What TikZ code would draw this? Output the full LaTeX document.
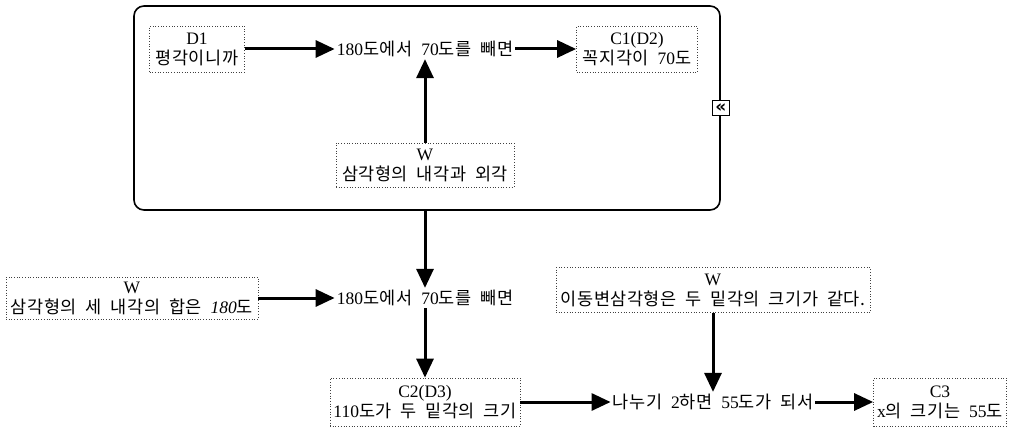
\documentclass[tikz,border=0pt]{standalone}
\usepackage{fontspec}
\setmainfont{Liberation Serif}
\newfontfamily\krfont[WordSpace=2,LetterSpace=3]{Noto Sans CJK KR}
\newfontfamily\iconfont{DejaVu Sans}
\newcommand{\kr}[1]{{\krfont #1}}
\usepackage{tikz}
\usetikzlibrary{positioning}
\usetikzlibrary{arrows.meta}
\tikzset{
	dotbox/.style={draw=black!75,dotted,line width=0.7pt,align=center,inner sep=2pt,minimum height=46pt},
	plain/.style={align=center,inner sep=2pt},
	bigarrow/.style={-{Triangle[length=19pt,width=17pt]},line width=3pt}
}

\begin{document}
\begin{tikzpicture}[x=1pt,y=-1pt,font=\fontsize{17.5}{20}\selectfont]
				\useasboundingbox (0,0) rectangle (1009,428);
				\node[draw,rounded corners=10pt,line width=1.6pt,inner sep=0pt,minimum width=586pt,minimum height=204pt](frame) at (427,108) {};
				\node[dotbox,minimum width=95pt](d1) at (197,49) {D1\\\kr{평각이니까}};
				\node[plain](sub1) at (425,49) {180\kr{도에서 }70\kr{도를 빼면}};
				\node[dotbox,minimum width=121pt](c1) at (637,49) {C1(D2)\\\kr{꼭지각이 }70\kr{도}};
				\node[dotbox,minimum width=178pt,minimum height=44pt](w1) at (425,165) {W\\\kr{삼각형의 내각과 외각}};
				\node[draw,line width=1.4pt,fill=white,inner sep=0pt,minimum width=17pt,minimum height=15pt,font=\iconfont\bfseries\fontsize{17}{17}\selectfont](back) at (frame.east) {«};

				\node[dotbox,minimum width=252pt,minimum height=42pt](w2) at (132,298) {W\\\kr{삼각형의 세 내각의 합은 }\textit{180}\kr{도}};
				\node[plain](sub2) at (425,298) {180\kr{도에서 }70\kr{도를 빼면}};
				\node[dotbox,minimum width=314pt,minimum height=45pt](w3) at (713,290) {W\\\kr{이동변삼각형은 두 밑각의 크기가 같다.}};

				\node[dotbox,minimum width=190pt,minimum height=48pt](c2) at (425,402) {C2(D3)\\110\kr{도가 두 밑각의 크기}};
				\node[plain](sub3) at (713,402) {\kr{나누기 }2\kr{하면 }55\kr{도가 되서}};
				\node[dotbox,minimum width=133pt,minimum height=48pt](c3) at (940,402) {C3\\x\kr{의 크기는 }55\kr{도}};

				\draw[bigarrow] (d1) to (sub1);
				\draw[bigarrow] (sub1) to (c1);
				\draw[bigarrow] (w1) to (sub1);
				\draw[bigarrow] (frame.south -| sub2) to (sub2);
				\draw[bigarrow] (w2) to (sub2);
				\draw[bigarrow] (sub2) to (c2);
				\draw[bigarrow] (c2) to (sub3);
				\draw[bigarrow] (w3) to (sub3);
				\draw[bigarrow] (sub3) to (c3);
\end{tikzpicture}
\end{document}
